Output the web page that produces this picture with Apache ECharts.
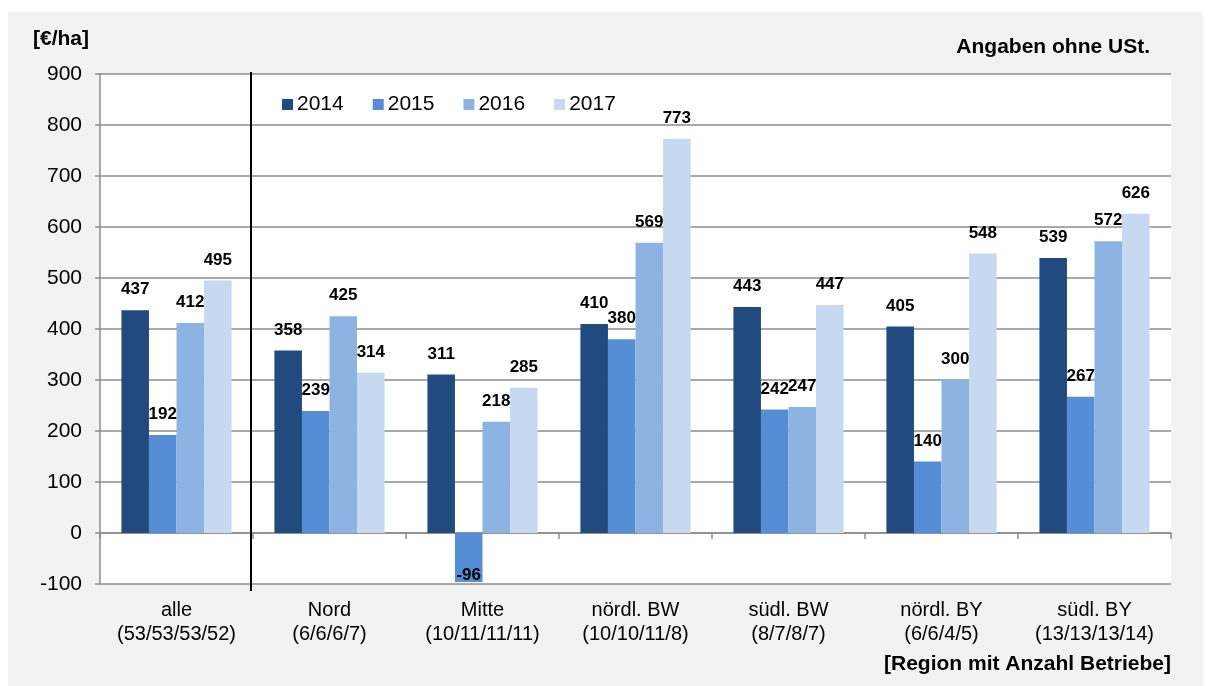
<!DOCTYPE html>
<html>
<head>
<meta charset="utf-8">
<script src="https://cdn.jsdelivr.net/npm/echarts@6/dist/echarts.min.js"></script>
<style>
  html, body { margin: 0; padding: 0; background: #fff; }
  #main { width: 1211px; height: 686px; }
</style>
</head>
<body>
<div id="main"></div>
<script>
// regions with number of farms per year
var categories = [
    'alle\n(53/53/53/52)',
    'Nord\n(6/6/6/7)',
    'Mitte\n(10/11/11/11)',
    'nördl. BW\n(10/10/11/8)',
    'südl. BW\n(8/7/8/7)',
    'nördl. BY\n(6/6/4/5)',
    'südl. BY\n(13/13/13/14)'
];
var years = ['2014', '2015', '2016', '2017'];
var v2014 = [437, 358, 311, 410, 443, 405, 539];
var v2015 = [192, 239, -96, 380, 242, 140, 267];
var v2016 = [412, 425, 218, 569, 247, 300, 572];
var v2017 = [495, 314, 285, 773, 447, 548, 626];
var colors = ['#214a7e', '#558ed5', '#8db3e2', '#c6d9f0'];

var chart = echarts.init(document.getElementById('main'), null, { renderer: 'canvas' });

function makeSeries(name, values, idx) {
    return {
        name: name,
        type: 'bar',
        xAxisIndex: 0,
        barGap: '0%',
        barCategoryGap: '28%',
        itemStyle: { color: colors[idx] },
        label: {
            show: true,
            position: 'top',
            distance: 12,
            color: '#000',
            fontFamily: 'Liberation Sans',
            fontWeight: 'bold',
            fontSize: 17
        },
        data: values.map(function (v) {
            if (v < 0) {
                return { value: v, label: { position: 'insideBottom', distance: -2 } };
            }
            return v;
        })
    };
}

var option = {
    backgroundColor: '#ffffff',
    animation: false,
    color: colors,
    textStyle: { fontFamily: 'Liberation Sans' },
    grid: {
        left: 100,
        right: 40,
        top: 74,
        bottom: 102,
        show: true,
        backgroundColor: '#ffffff',
        borderWidth: 0
    },
    legend: {
        data: years,
        left: 277,
        top: 89,
        itemWidth: 11,
        itemHeight: 11,
        itemGap: 29,
        icon: 'rect',
        textStyle: { fontSize: 21, color: '#000', fontFamily: 'Liberation Sans', padding: [0, 0, 0, -1] }
    },
    xAxis: [{
        type: 'category',
        data: categories,
        position: 'bottom',
        axisLine: { show: false, onZero: false },
        axisTick: { show: false },
        axisLabel: {
            interval: 0,
            margin: 14,
            fontSize: 20,
            lineHeight: 24,
            color: '#000',
            fontFamily: 'Liberation Sans'
        }
    }, {
        type: 'category',
        data: categories,
        position: 'top',
        axisLine: { show: true, onZero: true, lineStyle: { color: '#8c8c8c', width: 1.5 } },
        axisTick: { show: true, inside: true, interval: 0, length: 6, lineStyle: { color: '#8c8c8c', width: 1.5 } },
        axisLabel: { show: false }
    }],
    yAxis: {
        type: 'value',
        min: -100,
        max: 900,
        interval: 100,
        axisLine: { show: true, lineStyle: { color: '#8c8c8c', width: 1.5 } },
        axisTick: { show: true, length: 5, lineStyle: { color: '#8c8c8c', width: 1.5 } },
        axisLabel: {
            margin: 18,
            fontSize: 21,
            color: '#000',
            fontFamily: 'Liberation Sans'
        },
        splitLine: { lineStyle: { color: '#8c8c8c', width: 1.5 } }
    },
    series: [
        makeSeries(years[0], v2014, 0),
        makeSeries(years[1], v2015, 1),
        makeSeries(years[2], v2016, 2),
        makeSeries(years[3], v2017, 3)
    ]
};

chart.setOption(option);

// separator between "alle" and the regions, plus background and texts
var x0 = chart.convertToPixel({ xAxisIndex: 0 }, 0);
var x1 = chart.convertToPixel({ xAxisIndex: 0 }, 1);
var sepX = Math.round((x0 + x1) / 2) - 2;
var yTop = chart.convertToPixel({ yAxisIndex: 0 }, 900) - 2;
var yBot = chart.convertToPixel({ yAxisIndex: 0 }, -100) + 7;

chart.setOption({
    graphic: [{
        type: 'rect',
        z: -10,
        silent: true,
        shape: { x: 8, y: 12, width: 1195, height: 674 },
        style: { fill: '#f2f2f2' }
    }, {
        type: 'line',
        z: 100,
        silent: true,
        shape: { x1: sepX, y1: yTop, x2: sepX, y2: yBot },
        style: { stroke: '#000', lineWidth: 2 }
    }, {
        type: 'text',
        left: 33,
        top: 29,
        style: {
            text: '[€/ha]',
            fill: '#000',
            font: 'bold 21px "Liberation Sans"'
        }
    }, {
        type: 'text',
        right: 61,
        top: 37,
        style: {
            text: 'Angaben ohne USt.',
            fill: '#000',
            font: 'bold 21px "Liberation Sans"'
        }
    }, {
        type: 'text',
        right: 40,
        top: 654,
        style: {
            text: '[Region mit Anzahl Betriebe]',
            fill: '#000',
            font: 'bold 21px "Liberation Sans"'
        }
    }]
});
</script>
</body>
</html>
